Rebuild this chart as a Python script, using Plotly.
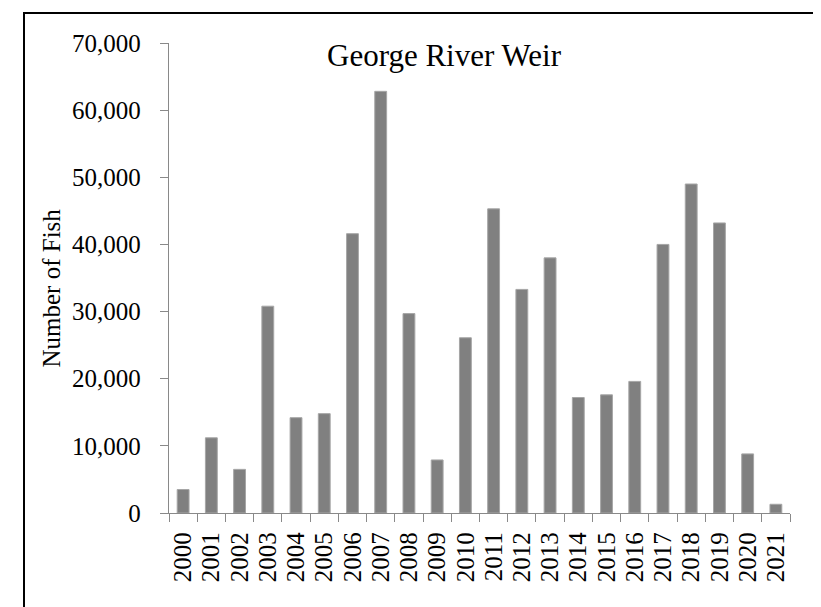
import plotly.graph_objects as go

years = [str(y) for y in range(2000, 2022)]
fish = [3500, 11200, 6500, 30800, 14200, 14800, 41600, 62800, 29700, 7900,
        26100, 45300, 33300, 38000, 17200, 17600, 19600, 40000, 49000, 43200,
        8800, 1300]
y_ticks = [0, 10000, 20000, 30000, 40000, 50000, 60000, 70000]

W, H = 821, 607
L, R, T, B = 161, 39, 35, 102
pw, ph = W - L - R, H - T - B

def px(x):
    return (x - L) / pw

def py(y):
    return (H - B - y) / ph

font = "Liberation Serif, Times New Roman, serif"
axis_col = "#898989"

fig = go.Figure(go.Bar(
    x=years, y=fish,
    marker=dict(color="#808080", line=dict(color="#a6a6a6", width=1)),
    width=0.42,
))

fig.update_layout(
    width=W, height=H,
    margin=dict(l=L, r=R, t=T, b=B),
    paper_bgcolor="white", plot_bgcolor="white",
    showlegend=False,
    font=dict(family=font, color="black", size=25),
    xaxis=dict(
        type="category", range=[-0.5, 21.5],
        tickmode="array", tickvals=years, ticktext=years,
        showline=True, linecolor=axis_col, linewidth=1.3,
        ticks="outside", tickson="boundaries", ticklen=8, tickcolor=axis_col, tickwidth=1.3,
        tickangle=-90, tickfont=dict(size=25, family=font, color="black"),
        ticklabelstandoff=8,
        showgrid=False, zeroline=False,
    ),
    yaxis=dict(
        range=[0, 70000], tickvals=y_ticks, tickformat=",",
        showline=True, linecolor=axis_col, linewidth=1.3,
        ticks="outside", ticklen=8, tickcolor=axis_col, tickwidth=1.3,
        tickfont=dict(size=25, family=font, color="black"),
        ticklabelstandoff=14,
        showgrid=False, zeroline=False,
    ),
    annotations=[
        dict(text="George River Weir", x=px(436), y=py(47), xref="paper", yref="paper",
             xanchor="center", yanchor="middle", showarrow=False,
             font=dict(size=31, family=font, color="black")),
        dict(text="Number of Fish", x=px(42.5), y=py(280), xref="paper", yref="paper",
             xanchor="center", yanchor="middle", showarrow=False, textangle=-90,
             font=dict(size=25, family=font, color="black")),
    ],
    shapes=[
        dict(type="rect", xref="paper", yref="paper",
             x0=px(16), x1=px(820), y0=py(640), y1=py(5),
             line=dict(color="black", width=2), fillcolor="rgba(0,0,0,0)", layer="above"),
    ],
)

fig.write_html("out.html")
